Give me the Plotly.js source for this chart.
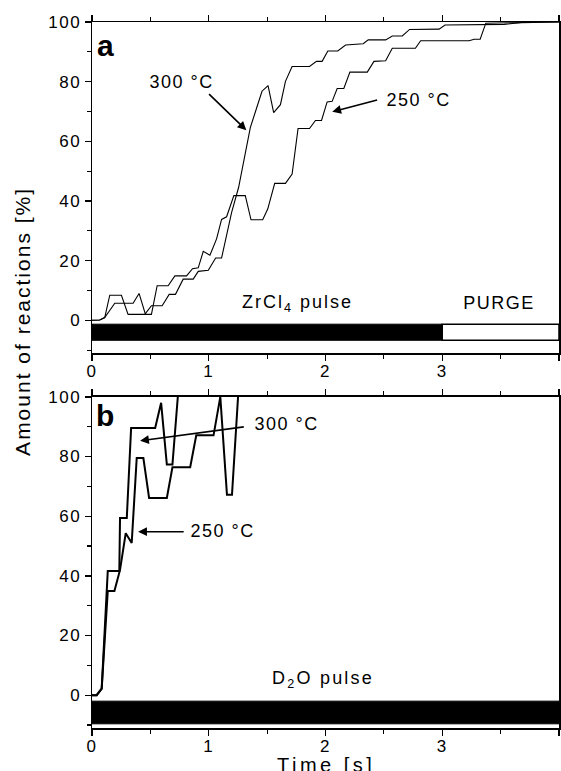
<!DOCTYPE html>
<html>
<head>
<meta charset="utf-8">
<script src="https://cdn.plot.ly/plotly-3.0.1.min.js"></script>
<style>
html,body{margin:0;padding:0;background:#fff;}
#chart{width:561px;height:771px;}
#chart g.xtick text, #chart g.ytick text, #chart g.x2tick text, #chart g.y2tick text { letter-spacing: 1.5px; }
#chart g.annotation text { letter-spacing: 1.5px; }
#chart g.annotation[data-index="0"] text, #chart g.annotation[data-index="1"] text { letter-spacing: 0px; }
#chart g.annotation[data-index="12"] text { letter-spacing: 2.2px; }
#chart g.annotation[data-index="6"] text { letter-spacing: 2px; }
#chart g.annotation[data-index="13"] text { letter-spacing: 3.5px; }
#chart g.annotation[data-index="14"] text { letter-spacing: 2px; }
</style>
</head>
<body>
<div id="chart"></div>
<script>
// Panel a: ZrCl4 pulse
const tA300 = [0, 0.066, 0.109, 0.152, 0.252, 0.309, 0.452, 0.509, 0.601, 0.661, 0.715, 0.781, 0.867, 0.91, 0.996, 1.059, 1.11, 1.162, 1.196, 1.256, 1.313, 1.356, 1.456, 1.508, 1.556, 1.614, 1.657, 1.714, 1.863, 1.923, 1.971, 2.02, 2.105, 2.172, 2.323, 2.366, 2.515, 2.572, 2.658, 2.72, 2.973, 3.024, 3.53, 3.72, 4];
const vA300 = [0, 0.1, 0.9, 8.4, 8.4, 2, 2, 4.9, 4.9, 8.7, 8.7, 13.8, 13.8, 16.4, 16.8, 20.9, 20.9, 29.6, 36.2, 44.6, 55.7, 64.6, 76.8, 78.7, 69.6, 72.3, 80.1, 85.1, 85.1, 86.8, 86.8, 90.3, 90.3, 92.3, 92.7, 94, 94, 95.3, 95.3, 97.5, 97.6, 99, 99.2, 100, 100];
const tA250 = [0, 0.066, 0.109, 0.195, 0.352, 0.403, 0.458, 0.509, 0.558, 0.652, 0.71, 0.81, 0.861, 0.91, 0.953, 1.01, 1.067, 1.11, 1.153, 1.215, 1.313, 1.362, 1.462, 1.505, 1.565, 1.657, 1.714, 1.765, 1.863, 1.914, 1.966, 2.014, 2.057, 2.1, 2.157, 2.209, 2.358, 2.415, 2.515, 2.572, 2.77, 2.815, 3.23, 3.274, 3.325, 3.373, 4];
const vA250 = [0, 0.1, 0.9, 5.7, 5.7, 9, 2, 2, 11.6, 11.6, 14.9, 14.9, 17.3, 17.6, 23.1, 21.8, 27.3, 33.8, 34.7, 41.8, 41.8, 33.7, 33.7, 37.3, 45.9, 45.9, 49, 64.3, 64.3, 67, 67, 73.2, 73.4, 77.7, 77.7, 83.2, 83.2, 86.8, 87, 91.2, 91.2, 93.7, 93.7, 94.2, 94.2, 99.6, 100];

// Panel b: D2O pulse
const tB300 = [0, 0.04, 0.083, 0.135, 0.234, 0.24, 0.298, 0.335, 0.541, 0.592, 0.641, 0.689, 0.735];
const vB300 = [0, 0, 2.2, 41.6, 41.6, 59.4, 59.4, 89.6, 89.6, 98, 77.3, 77.3, 100];
const tB250 = [0, 0.04, 0.083, 0.135, 0.192, 0.24, 0.289, 0.306, 0.34, 0.383, 0.44, 0.489, 0.641, 0.689, 0.841, 0.893, 1.041, 1.099, 1.156, 1.199, 1.251];
const vB250 = [0, 0, 2.2, 34.9, 34.9, 42, 54.3, 53.2, 51, 79.5, 79.5, 66.1, 66.1, 76.4, 76.4, 87.1, 87.1, 100, 67.2, 67.2, 100];

// Pulse / purge intervals [start, end] in seconds
const pulseA = [0, 3];
const purgeA = [3, 4];
const pulseB = [0, 4];

const FONT = 'Liberation Sans, Arial, Helvetica, sans-serif';

const traces = [
  {x: tA300, y: vA300, xaxis: 'x', yaxis: 'y', mode: 'lines', line: {color: '#000', width: 1.1}, name: '300 °C'},
  {x: tA250, y: vA250, xaxis: 'x', yaxis: 'y', mode: 'lines', line: {color: '#000', width: 1.1}, name: '250 °C'},
  {x: tB300, y: vB300, xaxis: 'x2', yaxis: 'y2', mode: 'lines', line: {color: '#000', width: 2}, name: '300 °C'},
  {x: tB250, y: vB250, xaxis: 'x2', yaxis: 'y2', mode: 'lines', line: {color: '#000', width: 2}, name: '250 °C'}
];

function xax(anchor) {
  return {
    anchor: anchor, range: [0, 4], dtick: 1, tick0: 0,
    ticks: 'outside', ticklen: 6, tickwidth: 1.3, tickcolor: '#000',
    minor: {dtick: 0.5, ticks: 'outside', ticklen: 4, tickwidth: 1.2, tickcolor: '#000'},
    showline: true, linecolor: '#000', linewidth: 1.5, mirror: 'ticks',
    showgrid: false, zeroline: false, ticklabelstandoff: -4,
    tickfont: {family: FONT, size: 17, color: '#000'}
  };
}
function yax(anchor, dom) {
  return {
    anchor: anchor, domain: dom, range: [-11, 100], dtick: 20, tick0: 0,
    ticks: 'outside', ticklen: 6, tickwidth: 1.3, tickcolor: '#000',
    minor: {dtick: 10, ticks: 'outside', ticklen: 4, tickwidth: 1.2, tickcolor: '#000'},
    showline: true, linecolor: '#000', linewidth: 1.5, mirror: true,
    showgrid: false, zeroline: false,
    tickfont: {family: FONT, size: 17, color: '#000'}
  };
}

const shapes = [
  {type: 'rect', xref: 'x', yref: 'y', x0: pulseA[0], x1: pulseA[1], y0: -6.7, y1: -1.3, fillcolor: '#000', line: {color: '#000', width: 1}},
  {type: 'rect', xref: 'x', yref: 'y', x0: purgeA[0], x1: purgeA[1], y0: -6.7, y1: -1.3, fillcolor: '#fff', line: {color: '#000', width: 1.5}},
  {type: 'rect', xref: 'x2', yref: 'y2', x0: pulseB[0], x1: pulseB[1], y0: -9.6, y1: -2, fillcolor: '#000', line: {color: '#000', width: 1}}
];

const txt = (s, x, y, xref, yref, size, extra) => Object.assign({
  text: s, x: x, y: y, xref: xref, yref: yref, showarrow: false,
  xanchor: 'center', yanchor: 'middle',
  font: {family: FONT, size: size, color: '#000'}
}, extra || {});
const arr = (x, y, ax, ay, xref, yref) => ({
  text: '', x: x, y: y, ax: ax, ay: ay, xref: xref, yref: yref, axref: xref, ayref: yref,
  showarrow: true, arrowhead: 2, arrowsize: 1.1, arrowwidth: 1.6, arrowcolor: '#000'
});

const annotations = [
  txt('<b>a</b>', 0.112, 92, 'x', 'y', 30),                       // 0
  txt('<b>b</b>', 0.112, 93.7, 'x2', 'y2', 30),                   // 1
  txt('300 °C', 0.77, 80, 'x', 'y', 18),                          // 2
  arr(1.322, 63.7, 0.99, 76.3, 'x', 'y'),                         // 3
  txt('250 °C', 2.80, 74, 'x', 'y', 18),                          // 4
  arr(2.058, 69.9, 2.455, 74, 'x', 'y'),                          // 5
  txt('ZrCl<sub>4</sub> pulse', 1.76, 5.7, 'x', 'y', 18),         // 6
  txt('PURGE', 3.49, 5.7, 'x', 'y', 18),                          // 7
  txt('300 °C', 1.67, 91, 'x2', 'y2', 18),                        // 8
  arr(0.412, 85.3, 1.313, 90, 'x2', 'y2'),                        // 9
  txt('250 °C', 1.12, 55.1, 'x2', 'y2', 18),                      // 10
  arr(0.395, 54.8, 0.798, 54.8, 'x2', 'y2'),                      // 11
  txt('D<sub>2</sub>O pulse', 1.98, 5.4, 'x2', 'y2', 18),         // 12
  txt('Time [s]', 0.5, -0.052, 'paper', 'paper', 20),             // 13
  txt('Amount of reactions [%]', -0.148, 0.5765, 'paper', 'paper', 21, {textangle: -90}) // 14
];

const layout = {
  width: 561, height: 771,
  margin: {l: 92, r: 2, t: 22, b: 43, pad: 0},
  paper_bgcolor: '#fff', plot_bgcolor: '#fff',
  showlegend: false,
  xaxis: xax('y'),
  yaxis: yax('x', [0.531, 1]),
  xaxis2: xax('y2'),
  yaxis2: yax('x2', [0, 0.469]),
  shapes: shapes,
  annotations: annotations,
  font: {family: FONT, color: '#000'}
};

Plotly.newPlot('chart', traces, layout, {staticPlot: true, displayModeBar: false});
</script>
</body>
</html>
